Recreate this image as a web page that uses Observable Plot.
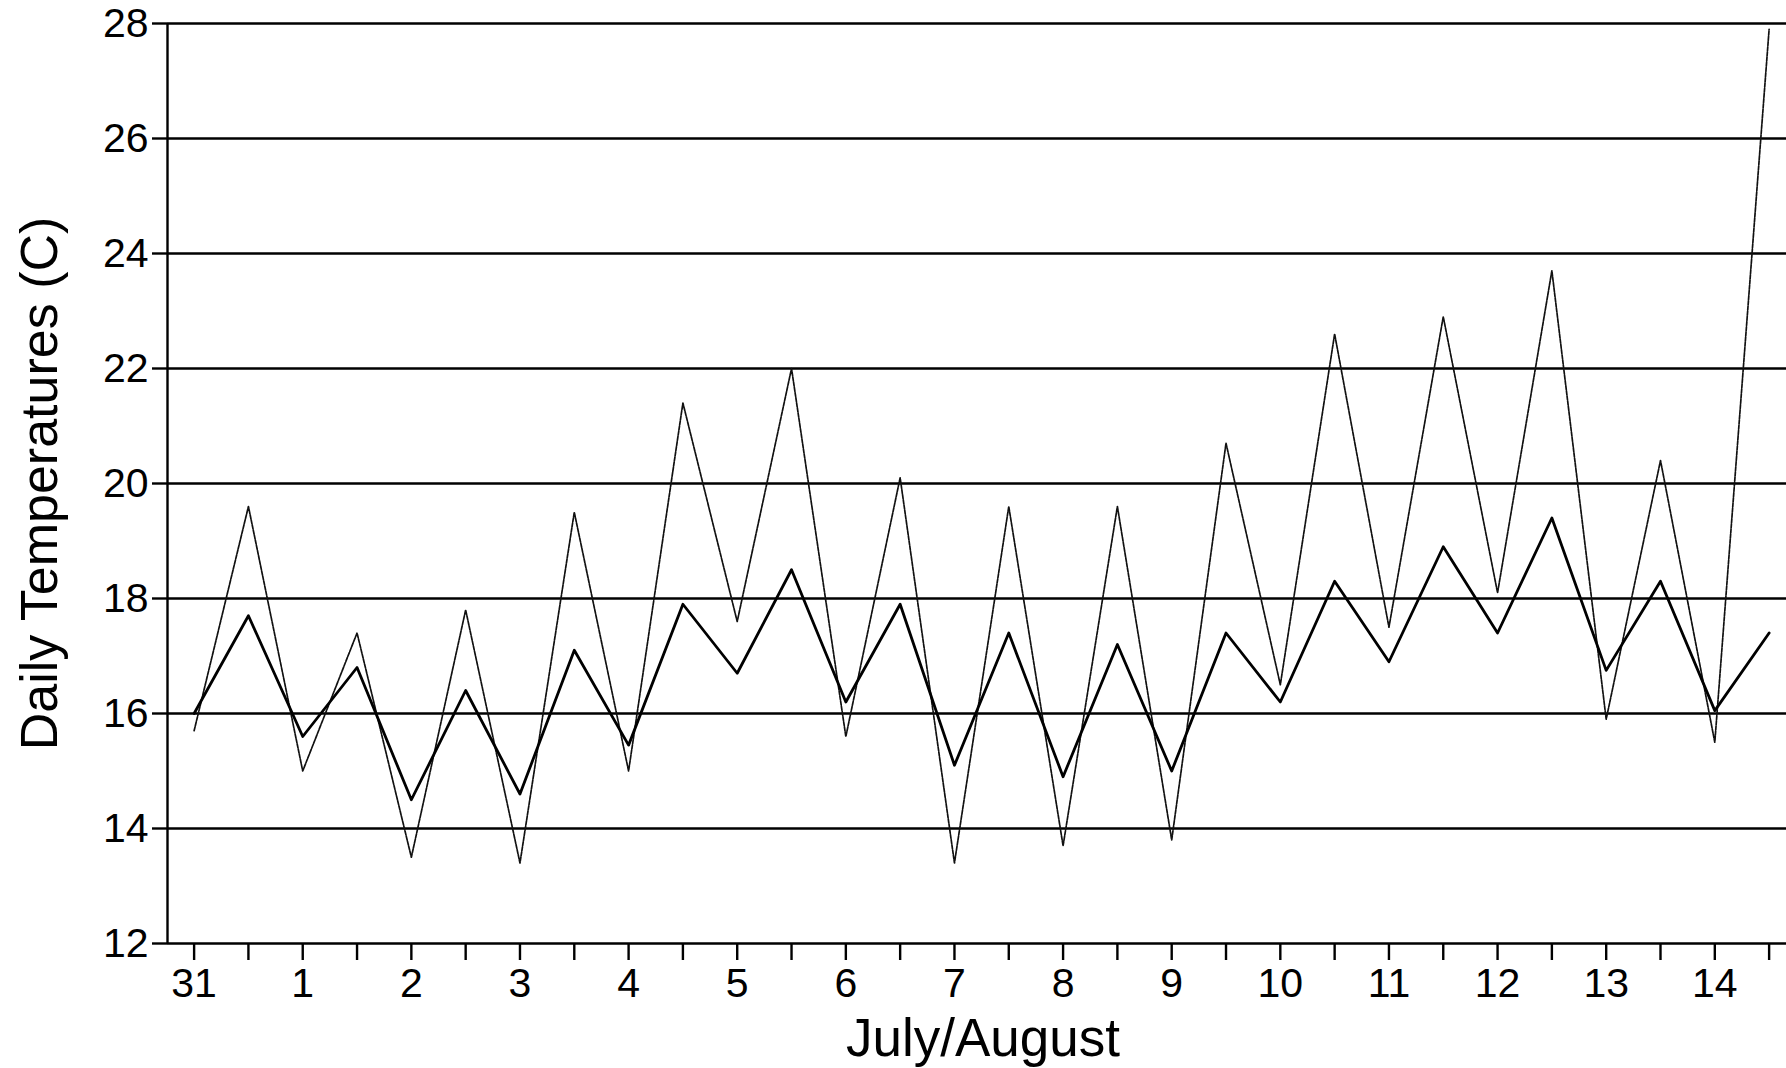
<!DOCTYPE html>
<html>
<head>
<meta charset="utf-8">
<script src="https://cdn.jsdelivr.net/npm/d3@7"></script>
<script src="https://cdn.jsdelivr.net/npm/@observablehq/plot@0.6"></script>
<style>
  html, body { margin: 0; padding: 0; background: #fff; }
  #chart svg { display: block; }
</style>
</head>
<body>
<div id="chart"></div>
<script>
// Day positions (0 = July 31, 1 = Aug 1, ... half steps are mid-day readings)
const dayPos = [0, 0.5, 1, 1.5, 2, 2.5, 3, 3.5, 4, 4.5, 5, 5.5, 6, 6.5, 7, 7.5,
                8, 8.5, 9, 9.5, 10, 10.5, 11, 11.5, 12, 12.5, 13, 13.5, 14, 14.5];
// Tick labels for whole days
const dayTicks = [0, 1, 2, 3, 4, 5, 6, 7, 8, 9, 10, 11, 12, 13, 14];
const dayLabels = ["31", "1", "2", "3", "4", "5", "6", "7", "8", "9", "10", "11", "12", "13", "14"];
// Series: thin (large amplitude) and solid (smaller amplitude)
const thinSeries = [15.7, 19.6, 15.0, 17.4, 13.5, 17.8, 13.4, 19.5, 15.0, 21.4,
                    17.6, 22.0, 15.6, 20.1, 13.4, 19.6, 13.7, 19.6, 13.8, 20.7,
                    16.5, 22.6, 17.5, 22.9, 18.1, 23.7, 15.9, 20.4, 15.5, 27.9];
const solidSeries = [16.0, 17.7, 15.6, 16.8, 14.5, 16.4, 14.6, 17.1, 15.45, 17.9,
                     16.7, 18.5, 16.2, 17.9, 15.1, 17.4, 14.9, 17.2, 15.0, 17.4,
                     16.2, 18.3, 16.9, 18.9, 17.4, 19.4, 16.75, 18.3, 16.05, 17.4];
const yTicks = [12, 14, 16, 18, 20, 22, 24, 26, 28];
const yTitle = "Daily Temperatures (C)";
const xTitle = "July/August";

const thinData = dayPos.map((d, i) => ({x: d, y: thinSeries[i]}));
const solidData = dayPos.map((d, i) => ({x: d, y: solidSeries[i]}));

const xMin = -0.245, xMax = 14.66;
const labelMap = new Map(dayTicks.map((d, i) => [d, dayLabels[i]]));

const chart = Plot.plot({
  width: 1786,
  height: 1068,
  marginLeft: 167,
  marginRight: 0,
  marginTop: 23,
  marginBottom: 125,
  style: {fontFamily: "'Liberation Sans', Arial, Helvetica, sans-serif", fontSize: "41px", color: "black", background: "white"},
  x: {domain: [xMin, xMax]},
  y: {domain: [12, 28]},
  marks: [
    Plot.ruleY(yTicks, {stroke: "black", strokeWidth: 2.4}),
    Plot.ruleX([xMin], {y1: 12, y2: 28, stroke: "black", strokeWidth: 2.4}),
    Plot.axisY({ticks: yTicks, tickSize: 15, tickPadding: 4, strokeWidth: 2.4, label: null, fontSize: 41}),
    Plot.axisX({ticks: dayPos, tickSize: 17, tickPadding: 7, strokeWidth: 2.4, label: null, fontSize: 41,
                tickFormat: d => labelMap.has(d) ? labelMap.get(d) : ""}),
    Plot.line(thinData, {x: "x", y: "y", stroke: "#111", strokeWidth: 1.7, strokeDasharray: "4,1.2"}),
    Plot.line(solidData, {x: "x", y: "y", stroke: "black", strokeWidth: 2.8}),
    Plot.text([yTitle], {frameAnchor: "left", textAnchor: "middle", dx: -127, rotate: -90, fontSize: 52, fill: "black"}),
    Plot.text([xTitle], {frameAnchor: "bottom", dx: 6, dy: 112, fontSize: 53, fill: "black"})
  ]
});
document.getElementById("chart").appendChild(chart);
</script>
</body>
</html>
